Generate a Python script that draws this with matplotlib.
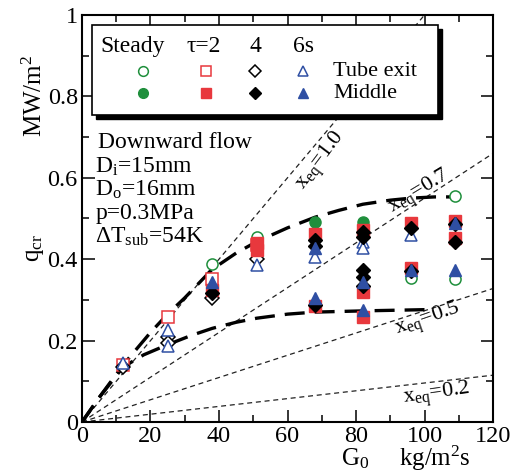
import matplotlib
matplotlib.use('Agg')
import matplotlib.pyplot as plt
from matplotlib.patches import Rectangle
from matplotlib.ticker import MultipleLocator, FuncFormatter

plt.rcParams['font.family'] = ['Liberation Serif', 'DejaVu Serif']
plt.rcParams['mathtext.default'] = 'regular'

# measured CHF points, G0 (kg/m2s) vs q_cr (MW/m2)
steady_exit_g = [38, 51, 96, 109, 109]
steady_exit_q = [0.389, 0.455, 0.355, 0.556, 0.352]
steady_mid_g = [68, 82]
steady_mid_q = [0.492, 0.492]

tau2_exit_g = [12, 25, 38, 51]
tau2_exit_q = [0.14, 0.257, 0.352, 0.435]
tau2_mid_g = [38, 51, 51, 68, 68, 82, 82, 82, 96, 96, 109, 109]
tau2_mid_q = [0.325, 0.44, 0.422, 0.462, 0.284, 0.472, 0.32, 0.258, 0.488, 0.378, 0.495, 0.452]

tau4_exit_g = [12, 25, 25, 38, 51]
tau4_exit_q = [0.135, 0.21, 0.193, 0.305, 0.40]
tau4_mid_g = [38, 68, 68, 68, 82, 82, 82, 82, 82, 96, 96, 109, 109]
tau4_mid_q = [0.318, 0.448, 0.432, 0.287, 0.468, 0.455, 0.373, 0.357, 0.333, 0.477, 0.37, 0.486, 0.443]

tau6_exit_g = [12, 25, 25, 51, 68, 82, 82, 96]
tau6_exit_q = [0.145, 0.226, 0.186, 0.385, 0.405, 0.443, 0.428, 0.46]
tau6_mid_g = [38, 68, 68, 82, 82, 96, 109, 109]
tau6_mid_q = [0.345, 0.427, 0.305, 0.345, 0.276, 0.373, 0.49, 0.374]

# trend curves drawn through the data
upper_g = [0, 5, 12, 20, 25, 30, 38, 45, 51, 60, 68, 75, 82, 90, 96, 103, 109]
upper_q = [0, 0.06, 0.14, 0.22, 0.265, 0.305, 0.375, 0.415, 0.443, 0.477, 0.503, 0.52, 0.535, 0.545, 0.55, 0.553, 0.553]
lower_g = [0, 5, 12, 18, 25, 32, 38, 45, 51, 60, 68, 82, 100]
lower_q = [0, 0.06, 0.135, 0.165, 0.19, 0.213, 0.23, 0.245, 0.255, 0.265, 0.27, 0.273, 0.276]

# constant exit quality lines: q_cr at G0 = 120
xeq_values = ['1.0', '0.7', '0.5', '0.2']
xeq_q_at_120 = [1.2, 0.66, 0.328, 0.115]

green = '#1f8f3c'
red = '#e8383d'
blue = '#2f4fa3'

fig = plt.figure(figsize=(5.17, 4.74), dpi=100)
ax = fig.add_axes([0.1586, 0.1097, 0.795, 0.8587])

for q120 in xeq_q_at_120:
    ax.plot([0, 120], [0, q120], color='#222222', lw=0.9, ls=(0, (4, 3)), zorder=1)

ax.plot(upper_g, upper_q, color='black', lw=2.4, ls=(0, (6, 3)), zorder=2)
ax.plot(lower_g, lower_q, color='black', lw=2.4, ls=(0, (6, 3)), zorder=2)

ms = 8
ax.plot(steady_exit_g, steady_exit_q, 'o', ms=ms, mfc='white', mec=green, mew=1.1, zorder=3)
ax.plot(tau2_exit_g, tau2_exit_q, 's', ms=ms, mfc='white', mec=red, mew=1.1, zorder=3)
ax.plot(tau4_exit_g, tau4_exit_q, 'D', ms=ms - 1, mfc='white', mec='black', mew=1.1, zorder=3)
ax.plot(tau6_exit_g, tau6_exit_q, '^', ms=ms, mfc='white', mec=blue, mew=1.1, zorder=3)
ax.plot(steady_mid_g, steady_mid_q, 'o', ms=ms, color=green, zorder=4)
ax.plot(tau2_mid_g, tau2_mid_q, 's', ms=ms, color=red, zorder=4)
ax.plot(tau4_mid_g, tau4_mid_q, 'D', ms=ms - 1, color='black', zorder=4)
ax.plot(tau6_mid_g, tau6_mid_q, '^', ms=ms, color=blue, zorder=4)

# x_eq labels along the lines
xeq_label_pos = [(70, 0.64, 53), (98.5, 0.565, 31), (101, 0.25, 19), (103.5, 0.066, 8)]
for val, (gx, qy, rot) in zip(xeq_values, xeq_label_pos):
    ax.text(gx, qy, 'x$_{eq}$=' + val, fontsize=16, rotation=rot,
            rotation_mode='anchor', ha='center', va='center', zorder=5)

ax.set_xlim(0, 120)
ax.set_ylim(0, 1)
ax.xaxis.set_major_locator(MultipleLocator(20))
ax.xaxis.set_minor_locator(MultipleLocator(10))
ax.yaxis.set_major_locator(MultipleLocator(0.2))
ax.yaxis.set_minor_locator(MultipleLocator(0.1))
ax.yaxis.set_major_formatter(FuncFormatter(lambda v, p: '%g' % round(v, 2)))
ax.tick_params(which='both', direction='in', top=True, right=True, labelsize=17.5, width=1.1)
ax.tick_params(which='major', length=9, pad=3)
ax.tick_params(which='minor', length=5)
for s in ax.spines.values():
    s.set_linewidth(1.5)

# axis titles, quantity and unit set apart
ax.text(-0.115, 0.428, 'q$_{cr}$', transform=ax.transAxes, rotation=90,
        ha='center', va='center', fontsize=18)
ax.text(-0.115, 0.80, 'MW/m$^2$', transform=ax.transAxes, rotation=90,
        ha='center', va='center', fontsize=18)
ax.text(0.664, -0.09, 'G$_0$', transform=ax.transAxes,
        ha='center', va='center', fontsize=18)
ax.text(0.859, -0.09, 'kg/m$^2$s', transform=ax.transAxes,
        ha='center', va='center', fontsize=18)

# condition notes
notes = ['Downward flow', 'D$_i$=15mm', 'D$_o$=16mm', 'p=0.3MPa', '$\\Delta$T$_{sub}$=54K']
for i, s in enumerate(notes):
    ax.text(0.032 if i else 0.04, 0.686 - i * 0.058, s, transform=ax.transAxes,
            fontsize=17, ha='left', va='center', zorder=5)

# legend box with drop shadow
bx, by, bw, bh = 0.024, 0.754, 0.842, 0.221
ax.add_patch(Rectangle((bx + 0.009, by - 0.009), bw, bh, transform=ax.transAxes,
                       facecolor='black', edgecolor='black', zorder=6, clip_on=False))
ax.add_patch(Rectangle((bx, by), bw, bh, transform=ax.transAxes,
                       facecolor='white', edgecolor='black', lw=1.2, zorder=7, clip_on=False))

heads = ['Steady', '\u03c4=2', '4', '6s']
col_x = [0.148, 0.302, 0.421, 0.538]
head_x = [0.124, 0.295, 0.421, 0.54]
for hx, h in zip(head_x, heads):
    ax.text(hx, 0.922, h, transform=ax.transAxes, fontsize=17, ha='center', va='center', zorder=8)

row1_y, row2_y = 0.862, 0.808
open_styles = [('o', green, 7), ('s', red, 7), ('D', 'black', 6), ('^', blue, 7)]
for cx, (m, c, size) in zip(col_x, open_styles):
    ax.plot([cx], [row1_y], m, ms=size, mfc='white', mec=c, mew=1.1,
            transform=ax.transAxes, zorder=8, clip_on=False)
    ax.plot([cx], [row2_y], m, ms=size, color=c,
            transform=ax.transAxes, zorder=8, clip_on=False)
ax.text(0.611, row1_y, 'Tube exit', transform=ax.transAxes, fontsize=16, ha='left', va='center', zorder=8)
ax.text(0.611, row2_y, 'Middle', transform=ax.transAxes, fontsize=16, ha='left', va='center', zorder=8)

fig.savefig('out.png', dpi=100)
